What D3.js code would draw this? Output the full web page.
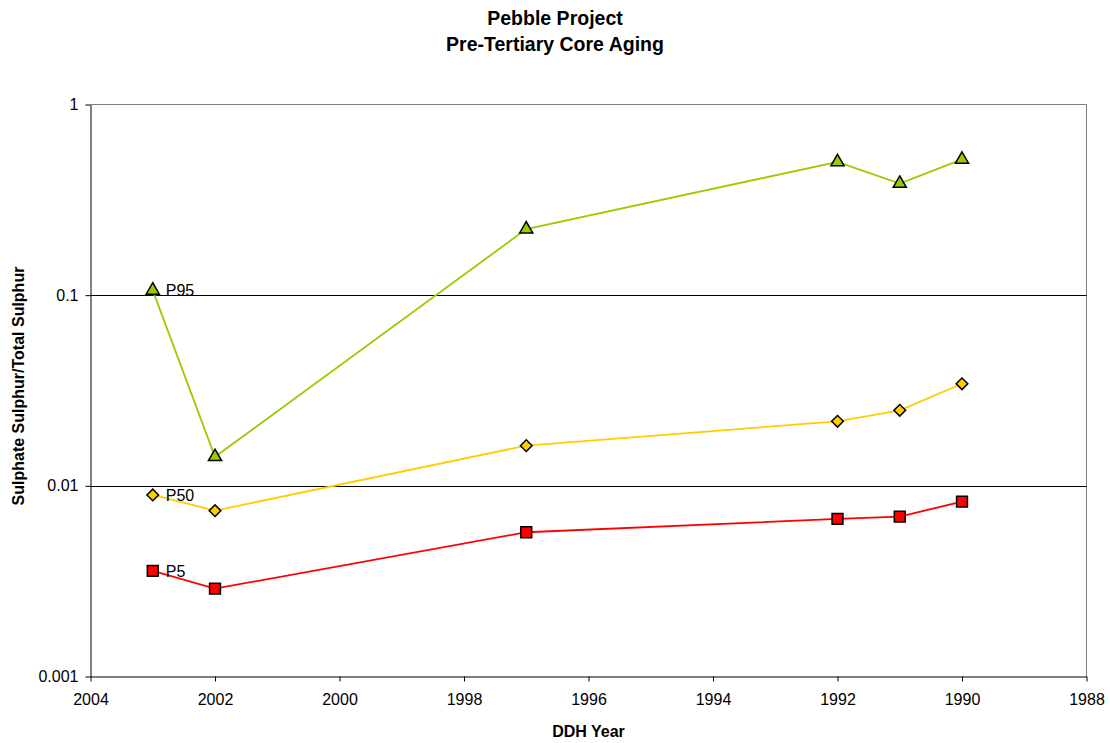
<!DOCTYPE html>
<html>
<head>
<meta charset="utf-8">
<script src="https://cdn.jsdelivr.net/npm/d3@7/dist/d3.min.js"></script>
<style>
  html, body { margin: 0; padding: 0; background: #fff; }
  svg { display: block; font-family: Arial, "Liberation Sans", sans-serif; }
</style>
</head>
<body>
<svg id="chart" width="1110" height="743"></svg>
<script>
// Drill-hole years and sulphate/total sulphur ratio percentiles
const years = [2003, 2002, 1997, 1992, 1991, 1990];
const p95 = [0.106, 0.0142, 0.222, 0.50, 0.385, 0.515];
const p50 = [0.00896, 0.00741, 0.01625, 0.0218, 0.0249, 0.0343];
const p5  = [0.00358, 0.00289, 0.00571, 0.00671, 0.0069, 0.00826];

const xTicks = [2004, 2002, 2000, 1998, 1996, 1994, 1992, 1990, 1988];
const yTicks = [0.001, 0.01, 0.1, 1];
const yTickLabels = ["0.001", "0.01", "0.1", "1"];

const series = [
  { name: "P95", values: p95, color: "#99CC00", symbol: d3.symbolTriangle, size: 75, rotate: 0 },
  { name: "P50", values: p50, color: "#FFCC00", symbol: d3.symbolSquare, size: 68, rotate: 45 },
  { name: "P5",  values: p5,  color: "#FF0000", symbol: d3.symbolSquare, size: 118, rotate: 0 }
];

const svg = d3.select("#chart");
const plotLeft = 90.5, plotRight = 1086.5, plotTop = 104.5, plotBottom = 676.5;

const x = d3.scaleLinear().domain([2004, 1988]).range([plotLeft, plotRight]);
const y = d3.scaleLog().domain([0.001, 1]).range([plotBottom, plotTop]);

// Titles
svg.append("text").attr("x", 555).attr("y", 25).attr("text-anchor", "middle")
  .style("font-size", "19.5px").style("font-weight", "bold").text("Pebble Project");
svg.append("text").attr("x", 555).attr("y", 51).attr("text-anchor", "middle")
  .style("font-size", "19.5px").style("font-weight", "bold").text("Pre-Tertiary Core Aging");

// Plot frame: top and right edges in grey
svg.append("line").attr("x1", plotLeft).attr("x2", plotRight).attr("y1", plotTop).attr("y2", plotTop)
  .attr("stroke", "#808080").attr("stroke-width", 1);
svg.append("line").attr("x1", plotRight).attr("x2", plotRight).attr("y1", plotTop).attr("y2", plotBottom)
  .attr("stroke", "#808080").attr("stroke-width", 1);

// Horizontal gridlines at inner decades
svg.append("g").selectAll("line").data(yTicks.filter(v => v > 0.001 && v < 1)).join("line")
  .attr("x1", plotLeft).attr("x2", plotRight)
  .attr("y1", d => Math.round(y(d)) + 0.5).attr("y2", d => Math.round(y(d)) + 0.5)
  .attr("stroke", "#000").attr("stroke-width", 1);

// Axes
const xAxis = d3.axisBottom(x).tickValues(xTicks).tickFormat(d3.format("d"))
  .tickSize(5).tickSizeOuter(0).tickPadding(12);
const gx = svg.append("g").attr("transform", `translate(0,${plotBottom})`).call(xAxis)
  .attr("font-size", null).attr("font-family", null);
gx.selectAll("text").style("font-size", "16px").attr("fill", "#000");
gx.selectAll("line").attr("stroke", "#000");
gx.select(".domain").attr("stroke", "#000");

const yAxis = d3.axisLeft(y).tickValues(yTicks).tickFormat((d, i) => yTickLabels[i])
  .tickSize(5).tickSizeOuter(0).tickPadding(7);
const gy = svg.append("g").attr("transform", `translate(${plotLeft},0)`).call(yAxis)
  .attr("font-size", null).attr("font-family", null);
gy.selectAll("text").style("font-size", "16px").attr("fill", "#000");
gy.selectAll("line").attr("stroke", "#000");
gy.select(".domain").attr("stroke", "#000");

// Axis titles
svg.append("text").attr("x", (plotLeft + plotRight) / 2).attr("y", 737).attr("text-anchor", "middle")
  .style("font-size", "16px").style("font-weight", "bold").text("DDH Year");
svg.append("text").attr("transform", "translate(24,386) rotate(-90)").attr("text-anchor", "middle")
  .style("font-size", "16px").style("font-weight", "bold").text("Sulphate Sulphur/Total Sulphur");

// Series lines, markers and first-point labels
const line = d3.line().x((d, i) => x(years[i])).y(d => y(d));

series.forEach(s => {
  svg.append("path").datum(s.values).attr("d", line)
    .attr("fill", "none").attr("stroke", s.color).attr("stroke-width", 1.8);
});

series.forEach(s => {
  const g = svg.append("g");
  g.selectAll("path").data(s.values).join("path")
    .attr("d", d3.symbol().type(s.symbol).size(s.size))
    .attr("transform", (d, i) => `translate(${x(years[i])},${y(d)}) rotate(${s.rotate})`)
    .attr("fill", s.color).attr("stroke", "#000").attr("stroke-width", 1.5)
    .attr("stroke-linejoin", "miter");
  svg.append("text")
    .attr("x", x(years[0]) + 13).attr("y", y(s.values[0]) + 6)
    .style("font-size", "16px").text(s.name);
});
</script>
</body>
</html>
